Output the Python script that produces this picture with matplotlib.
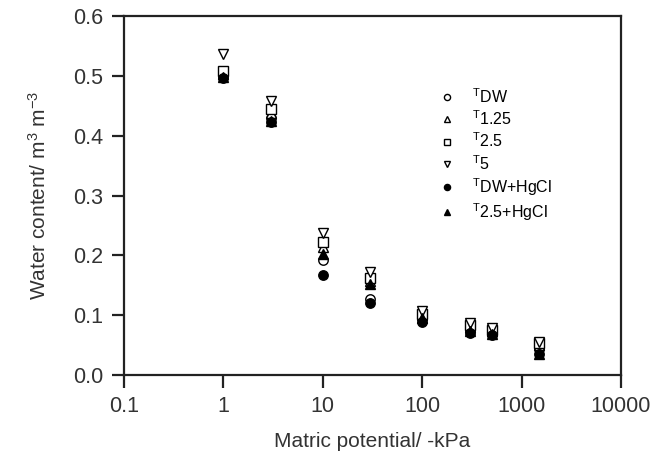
import matplotlib
matplotlib.use('Agg')
import matplotlib.pyplot as plt
from matplotlib.ticker import FixedLocator, NullLocator, FixedFormatter

plt.rcParams['font.family'] = ['Liberation Sans', 'DejaVu Sans']
plt.rcParams['mathtext.fontset'] = 'custom'
plt.rcParams['mathtext.rm'] = 'Liberation Sans'
plt.rcParams['mathtext.default'] = 'regular'

potential = [1, 3, 10, 30, 100, 300, 500, 1500]

t_dw = [0.500, 0.430, 0.193, 0.128, 0.095, 0.075, 0.070, 0.043]
t_125 = [0.503, 0.438, 0.215, 0.157, 0.100, 0.080, 0.073, 0.050]
t_25 = [0.508, 0.445, 0.222, 0.162, 0.103, 0.083, 0.075, 0.054]
t_5 = [0.537, 0.458, 0.237, 0.172, 0.108, 0.087, 0.078, 0.056]
t_dw_hg = [0.497, 0.423, 0.168, 0.121, 0.089, 0.070, 0.067, 0.036]
t_25_hg = [0.498, 0.425, 0.203, 0.152, 0.095, 0.073, 0.068, 0.035]

# the source draws the "T" small and raised, the treatment name full size
series = [
    (t_dw, 'o', 'white', r'$^{T}$DW'),
    (t_125, '^', 'white', r'$^{T}$1.25'),
    (t_25, 's', 'white', r'$^{T}$2.5'),
    (t_5, 'v', 'white', r'$^{T}$5'),
    (t_dw_hg, 'o', 'black', r'$^{T}$DW+HgCl'),
    (t_25_hg, '^', 'black', r'$^{T}$2.5+HgCl'),
]

fig = plt.figure(figsize=(6.67, 4.62), dpi=100)
ax = fig.add_axes([0.186, 0.188, 0.745, 0.777])

for vals, m, fc, lab in series:
    ax.plot(potential, vals, linestyle='none', marker=m, markersize=6.8,
            markerfacecolor=fc, markeredgecolor='black', markeredgewidth=1.0,
            label=lab)

ax.set_xscale('log')
ax.set_xlim(0.1, 10000)
ax.set_ylim(0, 0.6)
xt = [0.1, 1, 10, 100, 1000, 10000]
ax.xaxis.set_major_locator(FixedLocator(xt))
ax.xaxis.set_major_formatter(FixedFormatter(['0.1', '1', '10', '100', '1000', '10000']))
ax.xaxis.set_minor_locator(NullLocator())
ax.set_yticks([0.0, 0.1, 0.2, 0.3, 0.4, 0.5, 0.6])
ax.set_yticklabels(['0.0', '0.1', '0.2', '0.3', '0.4', '0.5', '0.6'])

for s in ax.spines.values():
    s.set_linewidth(1.6)
    s.set_color('#222222')
ax.tick_params(direction='out', length=9, width=1.6, labelsize=15.5,
               color='#222222', labelcolor='#333333', pad=6)

ax.set_xlabel('Matric potential/ -kPa', fontsize=15, color='#333333', labelpad=11)
ax.set_ylabel(r'Water content/ m$^{3}$ m$^{-3}$', fontsize=15, color='#333333', labelpad=17)

ax.legend(loc='upper left', bbox_to_anchor=(0.604, 0.82), frameon=False,
          fontsize=11.5, handletextpad=0.6, labelspacing=0.22, markerscale=0.65,
          borderaxespad=0)

fig.savefig('out.png', dpi=100)
